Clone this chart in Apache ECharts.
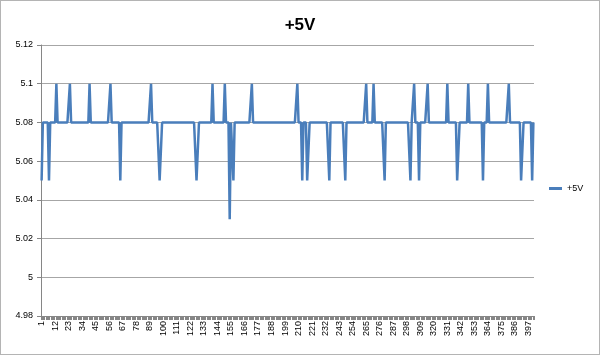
<!DOCTYPE html>
<html>
<head>
<meta charset="utf-8">
<script src="https://cdn.jsdelivr.net/npm/echarts@6/dist/echarts.min.js"></script>
<style>
html,body{margin:0;padding:0;background:#fff;}
#c{width:600px;height:355px;box-sizing:border-box;border:1px solid #b4b4b4;}
</style>
</head>
<body>
<div id="c"></div>
<script>
var title = "+5V";
var seriesName = "+5V";
var yTicks = [4.98, 5, 5.02, 5.04, 5.06, 5.08, 5.1, 5.12];
var values = [
5.05,5.08,5.08,5.08,5.08,5.08,5.05,5.08,5.08,5.08,
5.08,5.08,5.1,5.08,5.08,5.08,5.08,5.08,5.08,5.08,
5.08,5.08,5.08,5.1,5.08,5.08,5.08,5.08,5.08,5.08,
5.08,5.08,5.08,5.08,5.08,5.08,5.08,5.08,5.08,5.1,
5.08,5.08,5.08,5.08,5.08,5.08,5.08,5.08,5.08,5.08,
5.08,5.08,5.08,5.08,5.08,5.08,5.1,5.08,5.08,5.08,
5.08,5.08,5.08,5.08,5.05,5.08,5.08,5.08,5.08,5.08,
5.08,5.08,5.08,5.08,5.08,5.08,5.08,5.08,5.08,5.08,
5.08,5.08,5.08,5.08,5.08,5.08,5.08,5.08,5.08,5.1,
5.08,5.08,5.08,5.08,5.08,5.08,5.05,5.05,5.08,5.08,
5.08,5.08,5.08,5.08,5.08,5.08,5.08,5.08,5.08,5.08,
5.08,5.08,5.08,5.08,5.08,5.08,5.08,5.08,5.08,5.08,
5.08,5.08,5.08,5.08,5.08,5.08,5.05,5.05,5.08,5.08,
5.08,5.08,5.08,5.08,5.08,5.08,5.08,5.08,5.08,5.1,
5.08,5.08,5.08,5.08,5.08,5.08,5.08,5.08,5.08,5.1,
5.08,5.08,5.08,5.03,5.08,5.08,5.05,5.08,5.08,5.08,
5.08,5.08,5.08,5.08,5.08,5.08,5.08,5.08,5.08,5.08,
5.08,5.1,5.08,5.08,5.08,5.08,5.08,5.08,5.08,5.08,
5.08,5.08,5.08,5.08,5.08,5.08,5.08,5.08,5.08,5.08,
5.08,5.08,5.08,5.08,5.08,5.08,5.08,5.08,5.08,5.08,
5.08,5.08,5.08,5.08,5.08,5.08,5.08,5.08,5.1,5.08,
5.08,5.08,5.05,5.08,5.08,5.08,5.05,5.05,5.08,5.08,
5.08,5.08,5.08,5.08,5.08,5.08,5.08,5.08,5.08,5.08,
5.08,5.08,5.08,5.08,5.05,5.08,5.08,5.08,5.08,5.08,
5.08,5.08,5.08,5.08,5.08,5.08,5.08,5.05,5.08,5.08,
5.08,5.08,5.08,5.08,5.08,5.08,5.08,5.08,5.08,5.08,
5.08,5.08,5.08,5.08,5.1,5.08,5.08,5.08,5.08,5.08,
5.1,5.08,5.08,5.08,5.08,5.08,5.08,5.08,5.08,5.05,
5.08,5.08,5.08,5.08,5.08,5.08,5.08,5.08,5.08,5.08,
5.08,5.08,5.08,5.08,5.08,5.08,5.08,5.08,5.08,5.08,
5.05,5.08,5.08,5.1,5.08,5.08,5.08,5.05,5.08,5.08,
5.08,5.08,5.08,5.08,5.1,5.08,5.08,5.08,5.08,5.08,
5.08,5.08,5.08,5.08,5.08,5.08,5.08,5.08,5.08,5.08,
5.1,5.08,5.08,5.08,5.08,5.08,5.08,5.08,5.05,5.05,
5.08,5.08,5.08,5.08,5.08,5.08,5.08,5.1,5.08,5.08,
5.08,5.08,5.08,5.08,5.08,5.08,5.08,5.08,5.08,5.05,
5.08,5.08,5.08,5.1,5.08,5.08,5.08,5.08,5.08,5.08,
5.08,5.08,5.08,5.08,5.08,5.08,5.08,5.08,5.08,5.08,
5.1,5.08,5.08,5.08,5.08,5.08,5.08,5.08,5.08,5.08,
5.05,5.05,5.08,5.08,5.08,5.08,5.08,5.08,5.08,5.05,
5.08
];
var categories = values.map(function(_, i){ return String(i + 1); });

var chart = echarts.init(document.getElementById('c'), null, {renderer: 'canvas'});
chart.setOption({
  animation: false,
  backgroundColor: '#fff',
  textStyle: {fontFamily: 'Liberation Sans, Arial, sans-serif'},
  title: {
    text: title, left: 'center', top: 11,
    textStyle: {fontSize: 17, fontWeight: 'bold', color: '#000', fontFamily: 'Liberation Sans, Arial, sans-serif'}
  },
  legend: {
    data: [seriesName], left: 543, top: 178, orient: 'vertical',
    icon: 'rect', itemWidth: 13, itemHeight: 3, itemGap: 4,
    textStyle: {fontSize: 9, color: '#000'}
  },
  grid: {left: 40, right: 65, top: 44, bottom: 38, containLabel: false},
  xAxis: {
    type: 'category', data: categories, boundaryGap: true,
    axisLine: {lineStyle: {color: '#868686', width: 1}},
    axisTick: {show: true, interval: 0, length: 4, lineStyle: {color: '#868686'}},
    axisLabel: {interval: 10, rotate: 90, fontSize: 9, color: '#000', margin: 5},
    splitLine: {show: false}
  },
  yAxis: {
    type: 'value', min: yTicks[0], max: yTicks[yTicks.length - 1], interval: 0.02,
    axisLine: {show: true, lineStyle: {color: '#868686', width: 1}},
    axisTick: {show: true, length: 4, lineStyle: {color: '#868686'}},
    axisLabel: {fontSize: 9, color: '#000', margin: 8,
      formatter: function(v){ return String(parseFloat(v.toFixed(2))); }},
    splitLine: {show: true, lineStyle: {color: '#a6a6a6', width: 1}}
  },
  series: [{
    name: seriesName, type: 'line', data: values,
    showSymbol: false, symbol: 'none',
    lineStyle: {color: '#4a7ebb', width: 2.5},
    itemStyle: {color: '#4a7ebb'}
  }]
});
</script>
</body>
</html>
